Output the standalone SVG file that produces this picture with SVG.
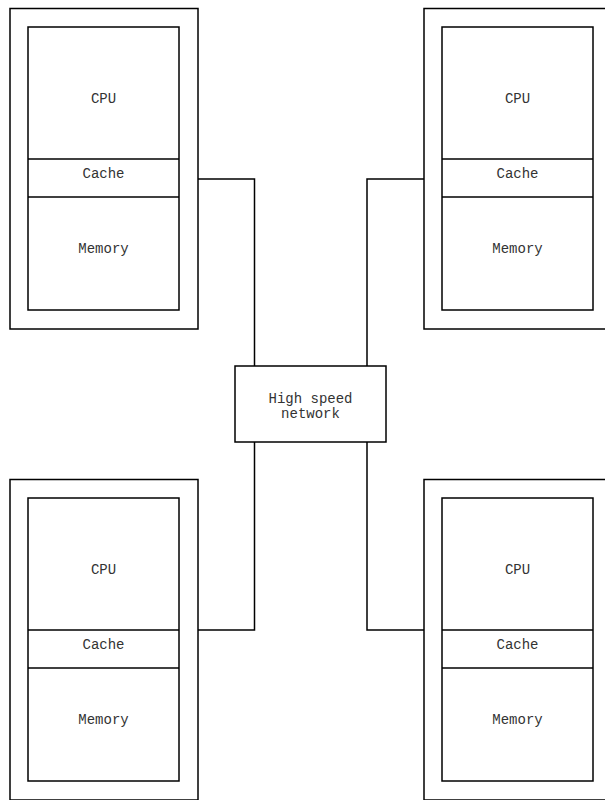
<svg xmlns="http://www.w3.org/2000/svg" width="605" height="800" viewBox="0 0 605 800">
<style>
rect{fill:#fff;stroke:#000;stroke-width:1.5}
line,path{stroke:#000;stroke-width:1.5;fill:none}
text{font-family:"Liberation Mono","Courier New",monospace;font-size:14px;fill:#333;text-anchor:middle}
</style>
<rect x="0" y="0" width="605" height="800" style="stroke:none"/>
<defs>
<g id="computer">
<rect x="10" y="8.5" width="188" height="320.5"/>
<rect x="28" y="27" width="151" height="283"/>
<line x1="28" y1="159" x2="179" y2="159"/>
<line x1="28" y1="197" x2="179" y2="197"/>
<text x="103.5" y="103">CPU</text>
<text x="103.5" y="178">Cache</text>
<text x="103.5" y="253">Memory</text>
</g>
</defs>
<g id="connectors">
<path d="M198,179 H254.5 V366"/>
<path d="M424,179 H367 V366"/>
<path d="M198,630 H254.5 V442"/>
<path d="M424,630 H367 V442"/>
</g>
<g id="node-top-left"><use href="#computer"/></g>
<g id="node-top-right"><use href="#computer" x="414"/></g>
<g id="node-bottom-left"><use href="#computer" y="471"/></g>
<g id="node-bottom-right"><use href="#computer" x="414" y="471"/></g>
<g id="network">
<rect x="235" y="366" width="151" height="76"/>
<text x="310.5" y="403">High speed</text>
<text x="310.5" y="418">network</text>
</g>
</svg>
